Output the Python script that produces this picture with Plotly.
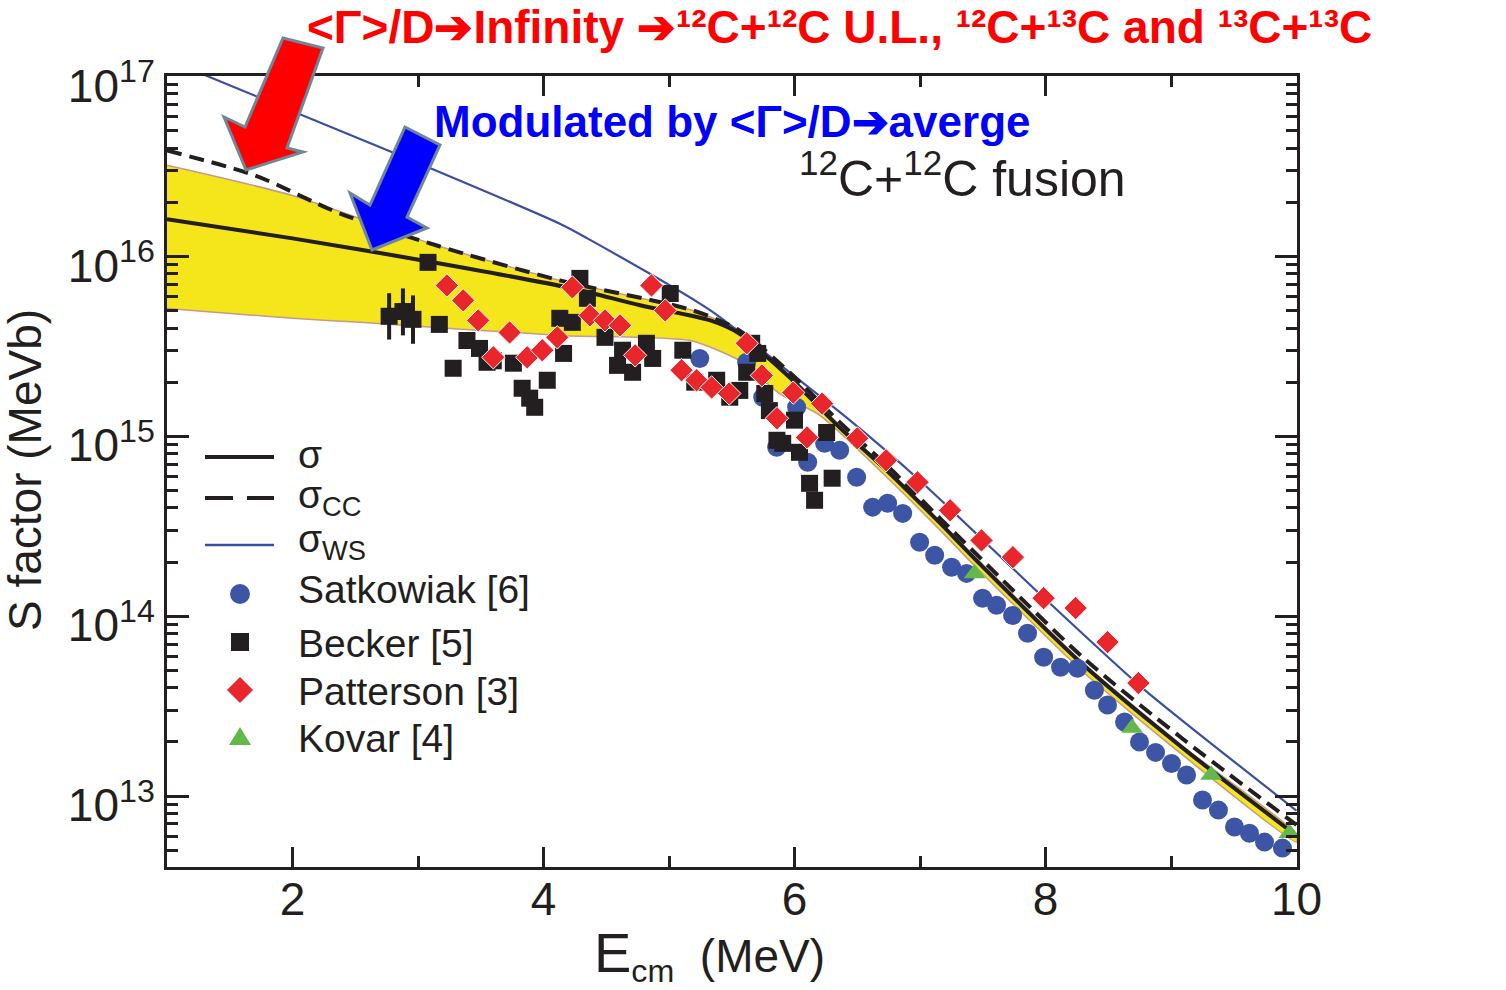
import plotly.graph_objects as go

# ---------------- data ----------------
# sigma (solid black)
E_sigma = [1.0, 2.0, 3.04, 4.23, 4.77, 5.33, 5.56, 5.72, 5.96, 6.36, 6.76, 7.16, 7.45, 8.30, 9.09, 10.0]
S_sigma = [1.61e16, 1.26e16, 9.5e15, 6.64e15, 5.35e15, 4.41e15, 3.73e15, 3.01e15, 2.13e15,
           1.12e15, 6.22e14, 3.29e14, 2.04e14, 5.37e13, 1.86e13, 6.03e12]
# sigma_CC (dashed black)
E_cc = [1.0, 1.7, 2.38, 3.15, 4.13, 5.19, 5.56, 5.96, 6.36, 6.76, 7.16, 7.45, 8.30, 9.09, 10.0]
S_cc = [3.88e16, 2.82e16, 1.73e16, 1.15e16, 7.36e15, 5.01e15, 3.88e15, 2.27e15, 1.20e15,
        6.64e14, 3.50e14, 2.21e14, 5.89e13, 2.09e13, 6.92e12]
# sigma_WS (thin blue)
E_ws = [1.3, 2.80, 4.13, 4.35, 5.33, 5.91, 6.44, 6.97, 7.98, 8.74, 9.09, 10.0]
S_ws = [1.02e17, 3.78e16, 1.52e16, 1.26e16, 5.01e15, 2.42e15, 1.23e15, 5.92e14, 1.28e14,
        4.17e13, 2.63e13, 8.3e12]
# yellow band (upper and lower edges)
E_band_hi = [1.0, 2.0, 3.15, 4.13, 5.19, 5.56, 5.96, 6.36, 6.76, 7.16, 7.45, 8.30, 9.09, 10.0]
S_band_hi = [3.21e16, 2.18e16, 1.15e16, 7.36e15, 5.01e15, 3.88e15, 2.19e15, 1.15e15, 6.31e14,
             3.35e14, 2.09e14, 5.50e13, 1.90e13, 6.15e12]
E_band_lo = [1.0, 2.0, 2.54, 4.13, 5.17, 5.56, 5.88, 6.20, 6.76, 7.16, 7.45, 8.30, 9.09, 10.0]
S_band_lo = [5.14e15, 4.53e15, 4.30e15, 3.64e15, 3.41e15, 2.64e15, 1.73e15, 1.31e15, 5.70e14,
             3.01e14, 1.86e14, 4.90e13, 1.70e13, 5.55e12]

# Satkowiak [6]
E_sat = [5.245, 5.619, 5.747, 5.858, 6.017, 6.105, 6.24, 6.36, 6.495, 6.623, 6.742, 6.862, 6.997,
         7.117, 7.252, 7.371, 7.499, 7.61, 7.738, 7.857, 7.985, 8.12, 8.255, 8.39, 8.494, 8.63,
         8.749, 8.877, 9.004, 9.124, 9.251, 9.378, 9.506, 9.625, 9.745, 9.888]
S_sat = [2.71e15, 2.58e15, 1.65e15, 8.69e14, 1.45e15, 7.18e14, 9.14e14, 8.36e14, 5.92e14, 4.04e14,
         4.25e14, 3.73e14, 2.58e14, 2.18e14, 1.87e14, 1.73e14, 1.26e14, 1.15e14, 1.01e14, 8.05e13,
         5.92e13, 5.21e13, 5.14e13, 3.88e13, 3.21e13, 2.58e13, 2.00e13, 1.75e13, 1.52e13, 1.31e13,
         9.51e12, 8.36e12, 6.73e12, 6.22e12, 5.55e12, 5.14e12]
# Becker [5]
E_bec = [3.08, 3.17, 3.28, 3.39, 3.49, 3.55, 3.60, 3.76, 3.83, 3.89, 3.93, 4.03, 4.13, 4.16, 4.23,
         4.29, 4.35, 4.49, 4.59, 4.63, 4.71, 4.82, 4.87, 5.01, 5.11, 5.205, 5.38, 5.484, 5.564,
         5.659, 5.707, 5.619, 5.763, 5.80, 5.86, 5.906, 6.0, 6.04, 6.12, 6.16, 6.256, 6.30]
S_bec = [9.27e15, 4.19e15, 2.39e15, 3.41e15, 3.08e15, 2.58e15, 2.63e15, 2.55e15, 1.85e15, 1.63e15,
         1.45e15, 2.05e15, 4.53e15, 2.89e15, 4.30e15, 7.55e15, 5.85e15, 3.55e15, 2.48e15, 3.01e15,
         2.27e15, 3.29e15, 2.71e15, 6.22e15, 3.01e15, 2.00e15, 2.05e15, 1.65e15, 1.80e15, 3.29e15,
         2.89e15, 2.27e15, 1.73e15, 1.39e15, 9.51e14, 9.14e14, 1.23e15, 8.15e14, 5.48e14, 4.41e14,
         1.05e15, 5.85e14]
# Becker points with error bars
E_bec_err = [2.77, 2.88, 2.96]
S_bec_err = [4.65e15, 4.94e15, 4.47e15]
err_plus = [1.6e15, 1.7e15, 1.6e15]
err_minus = [1.2e15, 1.3e15, 1.2e15]
# Patterson [3]
E_pat = [3.23, 3.36, 3.48, 3.60, 3.73, 3.87, 3.99, 4.11, 4.23, 4.37, 4.49, 4.61, 4.73, 4.86, 4.97,
         5.10, 5.22, 5.34, 5.48, 5.62, 5.74, 5.86, 5.99, 6.10, 6.22, 6.50, 6.73, 6.98, 7.24, 7.49,
         7.74, 7.985, 8.24, 8.494, 8.74]
S_pat = [6.90e15, 5.70e15, 4.41e15, 2.75e15, 3.78e15, 2.75e15, 3.01e15, 3.55e15, 6.73e15, 4.70e15,
         4.41e15, 4.14e15, 2.82e15, 6.90e15, 5.01e15, 2.33e15, 2.05e15, 1.87e15, 1.73e15, 3.29e15,
         2.18e15, 1.26e15, 1.75e15, 9.86e14, 1.52e15, 9.75e14, 7.36e14, 5.55e14, 3.88e14, 2.64e14,
         2.13e14, 1.26e14, 1.11e14, 7.18e13, 4.25e13]
# Kovar [4]
E_kov = [7.435, 8.69, 9.32, 9.944]
S_kov = [1.73e14, 2.39e13, 1.31e13, 6.22e12]

x_ticks = [2, 4, 6, 8, 10]
y_tick_exp = [13, 14, 15, 16, 17]
legend_labels = ["σ", "σ<sub>CC</sub>", "σ<sub>WS</sub>", "Satkowiak [6]", "Becker [5]",
                 "Patterson [3]", "Kovar [4]"]

# ---------------- styling ----------------
INK = "#231f20"
C_SAT = "#3d55a5"
C_PAT = "#e8262b"
C_KOV = "#62b84a"
C_WS = "#3a4fa0"
C_YEL = "#f5e51b"
C_EDGE = "#c49a8a"
FONT = "Liberation Sans"

# plot frame in pixels (for placing decorations in paper coordinates)
L, R, T, B = 167, 1297, 76, 867
def px(x):
    return (x - L) / (R - L)
def py(y):
    return (B - y) / (B - T)

fig = go.Figure()

SM = 0.8
# yellow band
fig.add_trace(go.Scatter(x=E_band_hi + E_band_lo[::-1], y=S_band_hi + S_band_lo[::-1],
                         fill="toself", fillcolor=C_YEL, mode="lines",
                         line=dict(color=C_EDGE, width=1.5, shape="spline", smoothing=0.6),
                         hoverinfo="skip", showlegend=False))
fig.add_trace(go.Scatter(x=E_ws, y=S_ws, mode="lines",
                         line=dict(color=C_WS, width=2.2, shape="spline", smoothing=SM), showlegend=False))
fig.add_trace(go.Scatter(x=E_cc, y=S_cc, mode="lines",
                         line=dict(color=INK, width=4, dash="15px,8px", shape="spline", smoothing=SM),
                         showlegend=False))
fig.add_trace(go.Scatter(x=E_sigma, y=S_sigma, mode="lines",
                         line=dict(color=INK, width=4, shape="spline", smoothing=SM), showlegend=False))

# data points
fig.add_trace(go.Scatter(x=E_sat, y=S_sat, mode="markers", cliponaxis=False,
                         marker=dict(symbol="circle", size=19, color=C_SAT, line=dict(width=0)),
                         showlegend=False))
fig.add_trace(go.Scatter(x=E_bec, y=S_bec, mode="markers", cliponaxis=False,
                         marker=dict(symbol="square", size=17, color=INK, line=dict(width=0)),
                         showlegend=False))
fig.add_trace(go.Scatter(x=E_bec_err, y=S_bec_err, mode="markers", cliponaxis=False,
                         error_y=dict(type="data", symmetric=False, array=err_plus, arrayminus=err_minus,
                                      color=INK, thickness=4, width=0),
                         marker=dict(symbol="square", size=17, color=INK, line=dict(width=0)),
                         showlegend=False))
fig.add_trace(go.Scatter(x=E_pat, y=S_pat, mode="markers", cliponaxis=False,
                         marker=dict(symbol="diamond", size=18, color=C_PAT, line=dict(width=1, color="#fff5f5")),
                         showlegend=False))
fig.add_trace(go.Scatter(x=E_kov, y=S_kov, mode="markers", cliponaxis=False,
                         marker=dict(symbol="triangle-up", size=19, color=C_KOV, line=dict(width=0)),
                         showlegend=False))

# ---------------- axes ----------------
fig.update_xaxes(range=[1, 10.004], tickvals=x_ticks, ticktext=[str(v) for v in x_ticks],
                 ticks="inside", ticklen=20, tickwidth=3, tickcolor=INK,
                 minor=dict(dtick=1, tick0=0, ticks="inside", ticklen=11, tickwidth=2.5, tickcolor=INK),
                 showline=True, linewidth=3, linecolor=INK, mirror="ticks",
                 showgrid=False, zeroline=False, ticklabelstandoff=-10,
                 tickfont=dict(family=FONT, size=46, color=INK))
fig.update_yaxes(type="log", range=[12.606, 17.003],
                 tickvals=[10.0 ** e for e in y_tick_exp],
                 ticktext=[f"10<sup>{e}</sup>" for e in y_tick_exp],
                 ticks="inside", ticklen=22, tickwidth=3, tickcolor=INK,
                 minor=dict(dtick="D1", ticks="inside", ticklen=11, tickwidth=2.5, tickcolor=INK),
                 showline=True, linewidth=3, linecolor=INK, mirror="ticks",
                 showgrid=False, zeroline=False, ticklabelshift=9,
                 tickfont=dict(family=FONT, size=46, color=INK))

# ---------------- decorations ----------------
shapes = []
def poly(points, fill, line_color):
    path = "M " + " L ".join(f"{px(x):.5f},{py(y):.5f}" for x, y in points) + " Z"
    return dict(type="path", xref="paper", yref="paper", path=path, fillcolor=fill,
                line=dict(color=line_color, width=3), layer="above")

shapes.append(poly([(283, 38), (323, 48), (287, 148), (303, 152), (246, 170), (224, 117), (245, 127)],
                   "#ff0000", "#6f8798"))
shapes.append(poly([(405, 127), (440, 145), (407, 217), (427, 228), (372, 250), (350, 193), (370, 205)],
                   "#0000ff", "#6f8798"))

# manual legend
leg_x0, leg_x1, sym_x, txt_x = 205, 274, 240, 296
shapes.append(dict(type="line", xref="paper", yref="paper", x0=px(leg_x0), x1=px(leg_x1),
                   y0=py(457), y1=py(457), line=dict(color=INK, width=4)))
shapes.append(dict(type="line", xref="paper", yref="paper", x0=px(205), x1=px(233),
                   y0=py(498), y1=py(498), line=dict(color=INK, width=4)))
shapes.append(dict(type="line", xref="paper", yref="paper", x0=px(247), x1=px(274),
                   y0=py(498), y1=py(498), line=dict(color=INK, width=4)))
shapes.append(dict(type="line", xref="paper", yref="paper", x0=px(leg_x0), x1=px(leg_x1),
                   y0=py(545), y1=py(545), line=dict(color=C_WS, width=2.5)))
shapes.append(dict(type="circle", xref="paper", yref="paper", x0=px(sym_x - 10), x1=px(sym_x + 10),
                   y0=py(594 + 10), y1=py(594 - 10), fillcolor=C_SAT, line=dict(width=0)))
shapes.append(dict(type="rect", xref="paper", yref="paper", x0=px(sym_x - 9), x1=px(sym_x + 9),
                   y0=py(642 + 9), y1=py(642 - 9), fillcolor=INK, line=dict(width=0)))
shapes.append(poly([(sym_x, 677), (sym_x + 13, 690), (sym_x, 703), (sym_x - 13, 690)], C_PAT, C_PAT))
shapes[-1]["line"] = dict(width=0)
shapes.append(poly([(sym_x, 727), (sym_x + 11, 745), (sym_x - 11, 745)], C_KOV, C_KOV))
shapes[-1]["line"] = dict(width=0)

annotations = []
leg_y = [454, 497, 541, 589, 643, 691, 738]
for lab, yy in zip(legend_labels, leg_y):
    annotations.append(dict(text=lab, xref="paper", yref="paper", x=px(txt_x), y=py(yy),
                            xanchor="left", yanchor="middle", showarrow=False,
                            font=dict(family=FONT, size=39, color=INK)))

# titles / labels
annotations.append(dict(text="S factor (MeVb)", xref="paper", yref="paper", x=px(25), y=py(470),
                        textangle=-90, xanchor="center", yanchor="middle", showarrow=False,
                        font=dict(family=FONT, size=46, color=INK)))
annotations.append(dict(text='<span style="font-size:56px">E</span><sub>cm</sub>&nbsp;&nbsp;(MeV)',
                        xref="paper", yref="paper", x=px(592), y=py(955),
                        xanchor="left", yanchor="middle", showarrow=False,
                        font=dict(family=FONT, size=46, color=INK)))
annotations.append(dict(text="<sup>12</sup>C+<sup>12</sup>C fusion", xref="paper", yref="paper",
                        x=px(797), y=py(175), xanchor="left", yanchor="middle", showarrow=False,
                        font=dict(family=FONT, size=50, color=INK)))
annotations.append(dict(text="&lt;Γ&gt;/D➔Infinity ➔¹²C+¹²C U.L., ¹²C+¹³C and ¹³C+¹³C",
                        xref="paper", yref="paper", x=px(305), y=py(27),
                        xanchor="left", yanchor="middle", showarrow=False,
                        font=dict(family=FONT, size=46, color="#ff0000", weight="bold")))
annotations.append(dict(text="Modulated by &lt;Γ&gt;/D➔averge", xref="paper", yref="paper",
                        x=px(432), y=py(121), xanchor="left", yanchor="middle", showarrow=False,
                        font=dict(family=FONT, size=44, color="#0000ff", weight="bold")))

fig.update_layout(width=1506, height=990, margin=dict(l=L, r=1506 - R, t=T, b=990 - B),
                  paper_bgcolor="white", plot_bgcolor="white", showlegend=False,
                  shapes=shapes, annotations=annotations)

fig.write_html("out.html", config={"displayModeBar": False},
               post_script="document.body.style.margin='0px';")
